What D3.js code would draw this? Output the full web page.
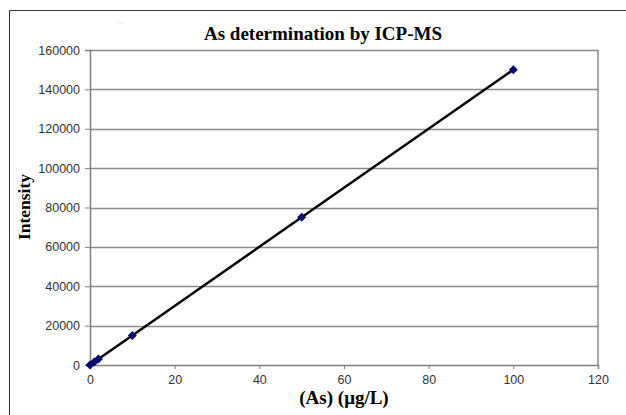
<!DOCTYPE html>
<html><head><meta charset="utf-8">
<script src="https://cdn.jsdelivr.net/npm/d3@7"></script>
<style>body{margin:0;background:#fff}</style>
</head><body>
<script>
const concentrations = [0, 1, 2, 10, 50, 100];
const intensities = [0, 1500, 3000, 15000, 75000, 150000];
const xTicks = [0, 20, 40, 60, 80, 100, 120];
const yTicks = [0, 20000, 40000, 60000, 80000, 100000, 120000, 140000, 160000];

const W = 626, H = 415;
const svg = d3.select("body").append("svg").attr("width", W).attr("height", H);
const m = {l: 90, t: 50, r: 598, b: 365};
const x = d3.scaleLinear().domain([0, 120]).range([m.l, m.r]);
const y = d3.scaleLinear().domain([0, 160000]).range([m.b, m.t]);

// outer frame
svg.append("path").attr("d", `M9.5,${H}V10.5H${W}`).attr("fill","none").attr("stroke","#333").attr("stroke-width",1);

// gridlines
svg.append("g").selectAll("line").data(yTicks.slice(1)).join("line")
  .attr("x1", m.l).attr("x2", m.r).attr("y1", d => Math.round(y(d))+0.5).attr("y2", d => Math.round(y(d))+0.5)
  .attr("stroke", "#8a8a8a").attr("stroke-width", 1.3);

// axes
const yAxis = svg.append("g").attr("transform", `translate(${m.l},0)`)
  .call(d3.axisLeft(y).tickValues(yTicks).tickSize(5).tickPadding(5).tickFormat(d3.format("d")));
const xAxis = svg.append("g").attr("transform", `translate(0,${m.b})`)
  .call(d3.axisBottom(x).tickValues(xTicks).tickSize(4).tickPadding(6).tickFormat(d3.format("d")));
[yAxis, xAxis].forEach(a => {
  a.select(".domain").attr("stroke", "#808080").attr("stroke-width", 1.5);
  a.selectAll(".tick line").attr("stroke", "#808080");
  a.selectAll("text").attr("fill", "#333").style("font-family", "Liberation Sans, Arial, sans-serif").style("font-size", "12.5px");
});
// right border of plot
svg.append("line").attr("x1", m.r).attr("x2", m.r).attr("y1", m.t).attr("y2", m.b).attr("stroke", "#8a8a8a").attr("stroke-width", 1.5);

// line
const pts = concentrations.map((c, i) => [c, intensities[i]]);
svg.append("path").datum(pts)
  .attr("d", d3.line().x(d => x(d[0])).y(d => y(d[1])))
  .attr("fill", "none").attr("stroke", "#000").attr("stroke-width", 2.5);

// markers (diamonds)
svg.append("g").selectAll("path").data(pts).join("path")
  .attr("d", "M0,-4.5L4.5,0L0,4.5L-4.5,0Z")
  .attr("transform", d => `translate(${x(d[0])},${y(d[1])})`)
  .attr("fill", "#0a0a6e");

// title and labels
svg.append("text").attr("x", 323).attr("y", 40).attr("text-anchor", "middle")
  .style("font-family", "Liberation Serif, Times New Roman, serif").style("font-weight", "bold").style("font-size", "19px")
  .text("As determination by ICP-MS");
svg.append("text").attr("x", 120).attr("y", 30).attr("text-anchor", "middle")
  .attr("fill", "#bbb").style("font-family", "Liberation Sans, sans-serif").style("font-size", "9px").text("˙˙");
svg.append("text").attr("x", 344).attr("y", 404).attr("text-anchor", "middle")
  .style("font-family", "Liberation Serif, Times New Roman, serif").style("font-weight", "bold").style("font-size", "19px")
  .text("(As) (μg/L)");
svg.append("text").attr("transform", "translate(30,207) rotate(-90)").attr("text-anchor", "middle")
  .style("font-family", "Liberation Serif, Times New Roman, serif").style("font-weight", "bold").style("font-size", "17.5px")
  .text("Intensity");
</script>
</body></html>
